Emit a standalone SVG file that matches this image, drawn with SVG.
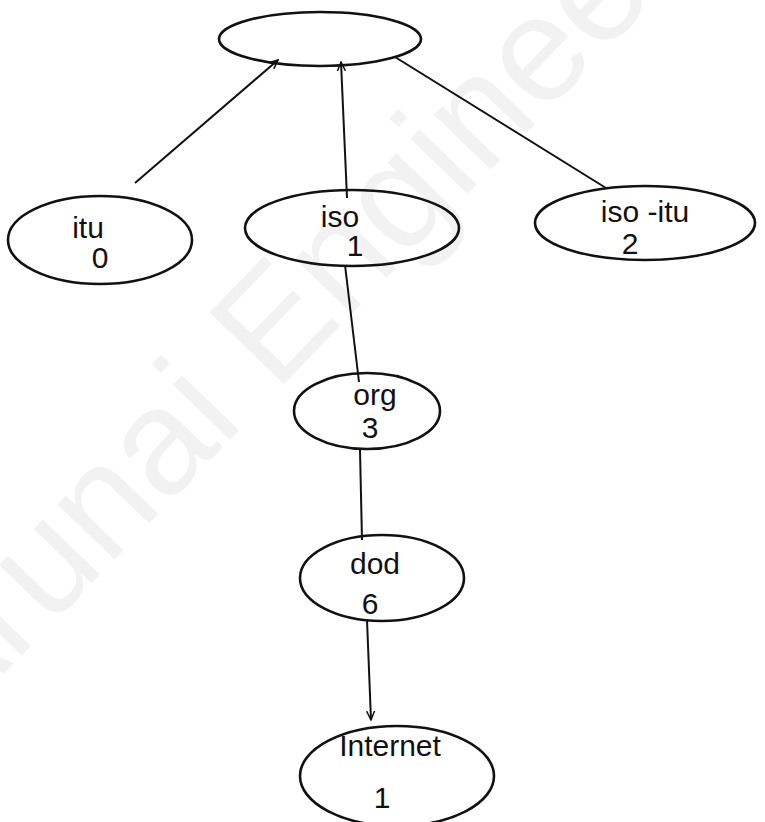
<svg xmlns="http://www.w3.org/2000/svg" width="765" height="822" viewBox="0 0 765 822">
<style>
.n{fill:none;stroke:#111;stroke-width:2.6}
.t{font-family:"Liberation Sans","DejaVu Sans",sans-serif;font-size:30px;fill:#111;text-anchor:middle}
.c{fill:none;stroke:#111;stroke-width:2}
.wm{font-family:"Liberation Sans",sans-serif;font-size:150px;fill:#000;fill-opacity:0.05}
</style>
<defs>
<marker id="ah" viewBox="0 0 10 10" refX="9" refY="5" markerWidth="5" markerHeight="5" orient="auto"><path d="M0,1 L9,5 L0,9" fill="none" stroke="#111" stroke-width="1.5"/></marker>
</defs>
<rect width="765" height="822" fill="#fff"/>
<text class="wm" transform="translate(-55,735) rotate(-46)">Arunai Engineering</text>
<g id="connectors">
<path class="c" d="M135,183 L278,60" marker-end="url(#ah)"/>
<path class="c" d="M347,198 L341,62" marker-end="url(#ah)"/>
<path class="c" d="M606,188 L395,57"/>
<path class="c" d="M345,265 L359,382"/>
<path class="c" d="M360,450 L362,540"/>
<path class="c" d="M367,620 L371,720" marker-end="url(#ah)"/>
</g>
<g id="root"><ellipse class="n" cx="320" cy="39" rx="101" ry="27"/></g>
<g id="itu"><ellipse class="n" cx="100" cy="240" rx="92" ry="44"/><text class="t" x="88" y="238">itu</text><text class="t" x="100" y="268">0</text></g>
<g id="iso"><ellipse class="n" cx="352" cy="228" rx="107" ry="38"/><text class="t" x="340" y="227">iso</text><text class="t" x="355" y="256">1</text></g>
<g id="iso-itu"><ellipse class="n" cx="645" cy="223" rx="110" ry="37"/><text class="t" x="645" y="222">iso -itu</text><text class="t" x="630" y="254">2</text></g>
<g id="org"><ellipse class="n" cx="367" cy="411" rx="73" ry="38"/><text class="t" x="375" y="405">org</text><text class="t" x="370" y="438">3</text></g>
<g id="dod"><ellipse class="n" cx="382" cy="578" rx="82" ry="43"/><text class="t" x="375" y="574">dod</text><text class="t" x="370" y="614">6</text></g>
<g id="internet"><ellipse class="n" cx="397" cy="776" rx="97" ry="50"/><text class="t" x="390" y="756">Internet</text><text class="t" x="382" y="808">1</text></g>
</svg>
